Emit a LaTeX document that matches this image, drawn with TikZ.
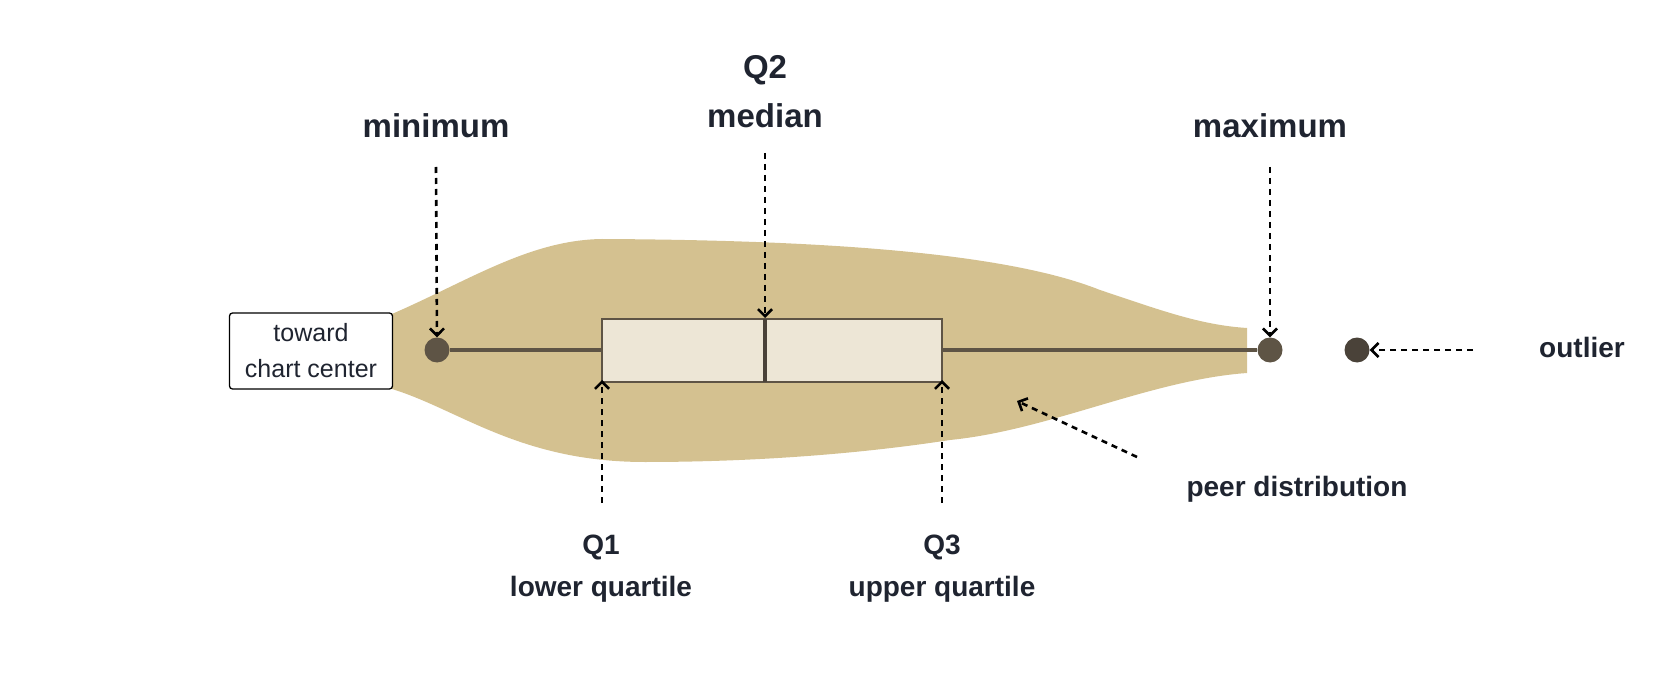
\documentclass[tikz,border=0pt]{standalone}
\usepackage{fontspec}
\setmainfont{Liberation Sans}
\usetikzlibrary{arrows.meta,positioning}
\definecolor{violin}{HTML}{D4C190}
\definecolor{boxfill}{HTML}{EDE6D6}
\definecolor{whisk}{HTML}{5E5445}
\definecolor{outl}{HTML}{4A4239}
\definecolor{ink}{HTML}{1F2430}
\tikzset{
  big/.style={font=\fontsize{33}{38}\selectfont\bfseries,text=ink,align=center},
  lab/.style={font=\fontsize{28}{42}\selectfont\bfseries,text=ink,align=center},
  pointer/.style={dashed,dash pattern=on 6pt off 5pt,line width=2.6pt,-{Straight Barb[length=7pt,width=14pt]}},
  dot/.style={circle,fill=whisk,minimum size=25pt,inner sep=0pt}
}
\begin{document}
\begin{tikzpicture}[x=1pt,y=-1pt]
   \useasboundingbox (0,0) rectangle (1680,700);
   % violin
   \fill[violin] (392,314) .. controls (470,280) and (530,240) .. (602,239)
      .. controls (800,240) and (1000,250) .. (1100,290)
      .. controls (1160,310) and (1200,325) .. (1247,328) -- (1247,373)
      .. controls (1150,380) and (1050,430) .. (950,440)
      .. controls (820,460) and (700,462) .. (645,462)
      .. controls (520,462) and (460,410) .. (392,389) -- cycle;
   % whiskers and box
   \node[dot] (min) at (437,350) {};
   \node[dot] (max) at (1270,350) {};
   \node[circle,fill=outl,minimum size=25pt,inner sep=0pt] (out) at (1357,350) {};
   \draw[whisk,line width=4pt] (min) -- (602,350) (942,350) -- (max);
   \draw[whisk,line width=2.5pt,fill=boxfill] (602,319) rectangle (942,382);
   \draw[outl,line width=4.5pt] (765,319) -- (765,382);
   \coordinate (q1) at (602,380);
   \coordinate (q3) at (942,380);
   \coordinate (med) at (765,318);
   \coordinate (body) at (1017,401);
   \node[draw,rounded corners=3pt,line width=1.3pt,fill=white,align=center,
         font=\fontsize{25}{36}\selectfont,text=ink,minimum width=163pt,minimum height=76pt,inner sep=0pt]
         (center) at (311,351) {toward\\chart center};
   % labels
   \node[big] (minl) at (436,126) {minimum};
   \node[big] (maxl) at (1270,126) {maximum};
   \node[big] (q2l) at (765,70) {Q2};
   \node[big] (medl) at (765,116) {median};
   \node[lab] (q1l) at (601,569) {Q1\\lower quartile};
   \node[lab] (q3l) at (942,569) {Q3\\upper quartile};
   \node[lab] (outlab) at (1582,347) {outlier};
   \node[lab] (peer) at (1297,489) {peer distribution};
   % pointers
   \draw[pointer] (minl.south |- 0,167) -- (min.north);
   \draw[pointer] (765,153) -- (med);
   \draw[pointer] (maxl.south |- 0,167) -- (max.north);
   \draw[pointer] (602,503) -- (q1);
   \draw[pointer] (942,503) -- (q3);
   \draw[pointer] (1473,350) -- (out.east);
   \draw[pointer] (1137,457) -- (body);
\end{tikzpicture}
\end{document}
